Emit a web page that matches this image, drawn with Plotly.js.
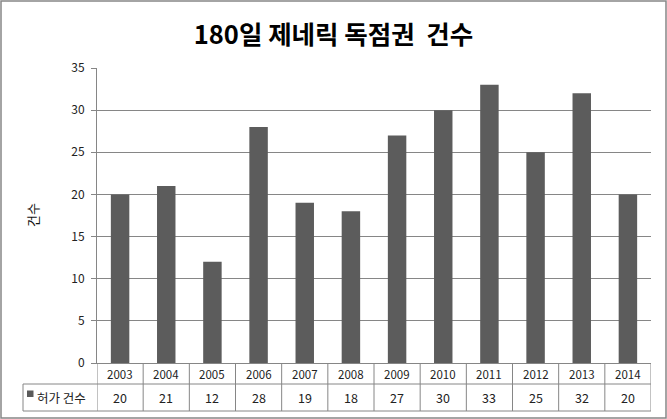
<!DOCTYPE html>
<html><head><meta charset="utf-8">
<script src="https://cdn.plot.ly/plotly-3.0.1.min.js"></script>
<style>html,body{margin:0;padding:0;background:#fff}#chart{width:667px;height:419px}</style>
</head><body><div id="chart"></div>
<script>
const years = ['2003','2004','2005','2006','2007','2008','2009','2010','2011','2012','2013','2014'];
const counts = [20,21,12,28,19,18,27,30,33,25,32,20];
const seriesName = '허가 건수';
const chartTitle = '180일 제네릭 독점권  건수';
const yTitle = '건수';

const FONT = '"Noto Sans CJK KR", "Malgun Gothic", sans-serif';
const GRID = '#868686';
// plot area geometry (px)
const L = 97, R = 651, T = 68, B = 363;
const W = R - L, H = B - T;
const px = v => (v - L) / W;
const py = v => (B - v) / H;

const shapes = [];
const annotations = [];
// table horizontal lines
[384, 411].forEach(yy => shapes.push({type:'line', xref:'paper', yref:'paper', x0:px(23), x1:px(R), y0:py(yy), y1:py(yy), line:{color:GRID, width:1}}));
// left border of label cell
shapes.push({type:'line', xref:'paper', yref:'paper', x0:px(23), x1:px(23), y0:py(384), y1:py(411), line:{color:GRID, width:1}});
// vertical separators at category boundaries
for (let k = 0; k <= years.length; k++) {
  shapes.push({type:'line', xref:'x', yref:'paper', x0:k-0.5, x1:k-0.5, y0:0, y1:py(411), line:{color:GRID, width:1}});
}
// legend key
shapes.push({type:'rect', xref:'paper', yref:'paper', x0:px(27), x1:px(33.5), y0:py(390.5), y1:py(397), fillcolor:'#5a5a5a', line:{width:0}});
// outer chart border
shapes.push({type:'rect', xref:'paper', yref:'paper', x0:px(1), x1:px(666), y0:py(1), y1:py(418), line:{color:'#868686', width:1.5}});

years.forEach((yr, i) => {
  annotations.push({xref:'x', yref:'paper', x:i, y:py(373.5), text:yr, showarrow:false, font:{family:FONT, size:11.5, color:'#222'}, xanchor:'center', yanchor:'middle'});
  annotations.push({xref:'x', yref:'paper', x:i, y:py(397.5), text:String(counts[i]), showarrow:false, font:{family:FONT, size:12.5, color:'#222'}, xanchor:'center', yanchor:'middle'});
});
annotations.push({xref:'paper', yref:'paper', x:px(35), y:py(397), text:seriesName, showarrow:false, xanchor:'left', yanchor:'middle', font:{family:FONT, size:12.5, color:'#222'}});
annotations.push({xref:'paper', yref:'paper', x:px(32), y:py(215), text:yTitle, showarrow:false, textangle:-90, xanchor:'center', yanchor:'middle', font:{family:FONT, size:13, color:'#111'}});

const data = [{
  type:'bar', x:years, y:counts, name:seriesName,
  marker:{color:'#5c5c5c', line:{width:0}}, width:0.4, hoverinfo:'x+y'
}];

const layout = {
  width:667, height:419,
  margin:{l:L, r:667-R, t:T, b:419-B, pad:0},
  paper_bgcolor:'#fff', plot_bgcolor:'#fff',
  showlegend:false,
  title:{text:chartTitle, x:0.5, xref:'container', xanchor:'center', y:1-35/419, yref:'container', yanchor:'middle', font:{family:FONT, size:25.5, color:'#000', weight:'bold'}},
  xaxis:{type:'category', range:[-0.5, years.length-0.5], showticklabels:false, ticks:'', showgrid:false, showline:true, linecolor:GRID, linewidth:1, zeroline:false, fixedrange:true},
  yaxis:{range:[0,35], dtick:5, tick0:0, showgrid:true, gridcolor:GRID, gridwidth:1, showline:true, linecolor:GRID, linewidth:1, ticks:'outside', ticklen:5, tickcolor:GRID, zeroline:false, tickfont:{family:FONT, size:12, color:'#222'}, ticklabelstandoff:4},
  shapes:shapes, annotations:annotations, bargap:0.6
};
Plotly.newPlot('chart', data, layout, {displayModeBar:false, staticPlot:true});
</script></body></html>
